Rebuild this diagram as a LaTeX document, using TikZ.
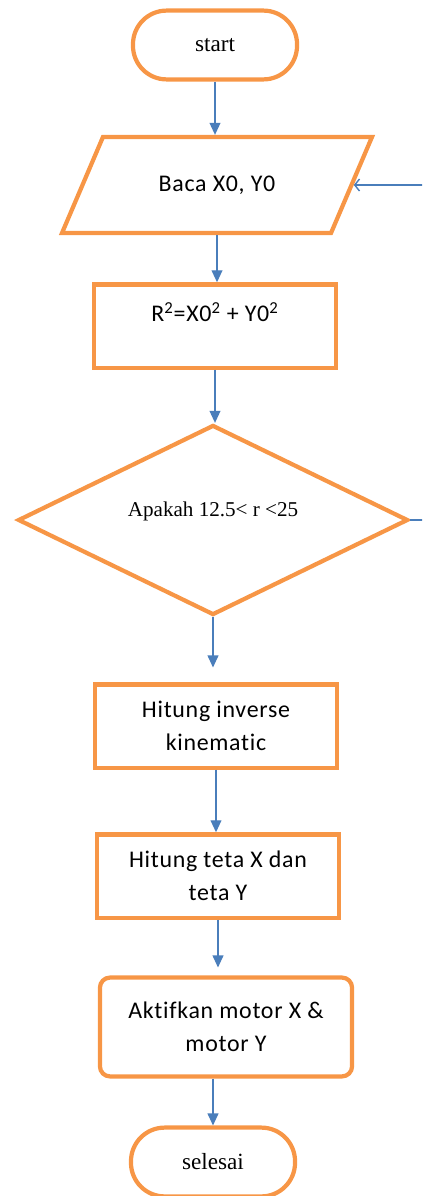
\documentclass[tikz,border=0pt]{standalone}
\usepackage{fontspec}
\setmainfont{Carlito}[Ligatures=NoCommon, LetterSpace=3]
\newfontfamily\termfont{Liberation Serif}
\usetikzlibrary{shapes.geometric,arrows.meta}

\definecolor{boxorange}{HTML}{F79646}
\definecolor{flowblue}{HTML}{4A7EBB}

\tikzset{
  outline/.style={draw=boxorange, line width=3pt, align=center,
    font=\fontsize{17}{23.5}\selectfont},
  terminal/.style={outline, rectangle, rounded corners=0.84cm,
    minimum width=4.1cm, minimum height=1.72cm,
    font=\termfont\fontsize{16.5}{18}\selectfont},
  iobox/.style={outline, trapezium, trapezium left angle=51,
    trapezium right angle=129, trapezium stretches=true,
    minimum width=7.75cm, minimum height=2.4cm},
  procbox/.style={outline, rectangle, minimum width=6.05cm, minimum height=2.08cm},
  actbox/.style={outline, rectangle, rounded corners=0.25cm,
    minimum width=6.3cm, minimum height=2.47cm},
  decision/.style={outline, diamond, aspect=2, minimum width=9.75cm,
    minimum height=4.75cm, font=\termfont\fontsize{15}{18}\selectfont},
  flow/.style={draw=flowblue, line width=1pt, -{Triangle[length=0.3cm,width=0.27cm]}},
  feedback/.style={draw=flowblue, line width=1pt, -{Straight Barb[length=0.12cm,width=0.3cm]}}
}

\begin{document}
\begin{tikzpicture}[x=0.025cm, y=-0.025cm]
  \useasboundingbox (0,0) rectangle (422,1196);
  \clip (0,0) rectangle (422,1196);

  \node[terminal] (start) at (215,45) {start};
  \node[iobox] (baca) at (217,185) {Baca X0, Y0};
  \node[procbox] (rumus) at (215,326)
    {\raisebox{0.7cm}{R\textsuperscript{2}=X0\textsuperscript{2} + Y0\textsuperscript{2}}};
  \node[decision] (cek) at (213,520) {\raisebox{0.55cm}{Apakah 12.5< r <25}};
  \node[procbox] (invers) at (216,726) {Hitung inverse\\kinematic};
  \node[procbox] (teta) at (218,876) {Hitung teta X dan\\teta Y};
  \node[actbox] (motor) at (226,1027) {Aktifkan motor X \&\\motor Y};
  \node[terminal] (selesai) at (213,1162) {selesai};

  \draw[flow] (start.south) -- (start.south |- baca.north);
  \draw[flow] (baca.south) -- (baca.south |- rumus.north);
  \draw[flow] (rumus.south) -- (rumus.south |- cek.north);
  \draw[flow, shorten >=0.37cm] (cek.south) -- (cek.south |- invers.north);
  \draw[flow] (invers.south) -- (invers.south |- teta.north);
  \draw[flow, shorten >=0.2cm] (teta.south) -- (teta.south |- motor.north);
  \draw[flow] (selesai.north |- motor.south) -- (selesai.north);
  \draw[feedback] (cek.east) -- ++(40,0) |- (baca.east);
\end{tikzpicture}
\end{document}
